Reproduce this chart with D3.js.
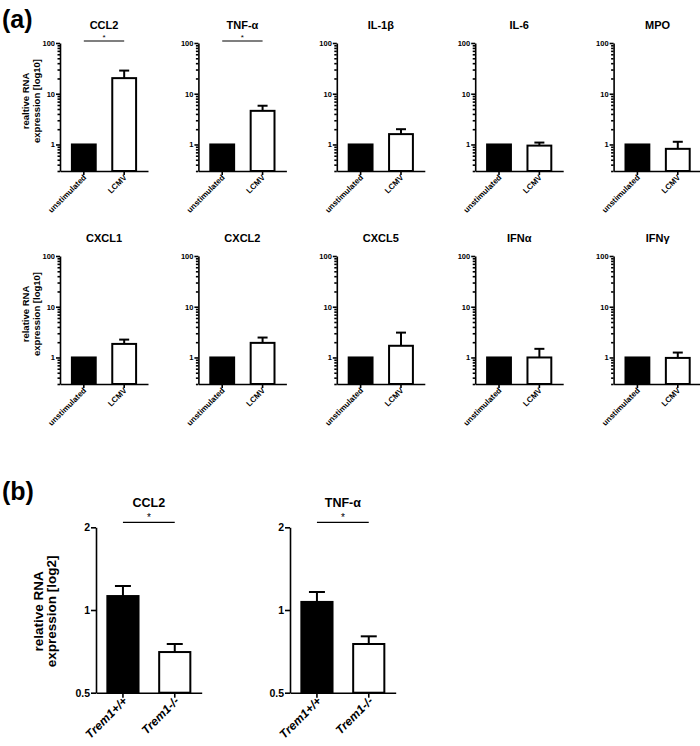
<!DOCTYPE html>
<html>
<head>
<meta charset="utf-8">
<script src="https://cdn.jsdelivr.net/npm/d3@7"></script>
<style>
  body { margin: 0; background: #fff; }
  svg { font-family: "Liberation Sans", Arial, sans-serif; font-weight: bold; }
  .axis path, .axis line { stroke: #000; stroke-width: 1.6; }
  .axis text { font-size: 7.5px; font-weight: bold; fill: #000; }
</style>
</head>
<body>
<script>
// panel (a): gene expression, log10 axis
const genesA = ['CCL2', 'TNF-α', 'IL-1β', 'IL-6', 'MPO', 'CXCL1', 'CXCL2', 'CXCL5', 'IFNα', 'IFNγ'];
const groupsA = ['unstimulated', 'LCMV'];
const unstimA = [1, 1, 1, 1, 1, 1, 1, 1, 1, 1];
const lcmvA = [20.3, 4.6, 1.6, 0.95, 0.82, 1.85, 1.94, 1.7, 1.0, 0.98];
const lcmvErrA = [28.6, 5.8, 2.0, 1.09, 1.13, 2.25, 2.47, 3.09, 1.48, 1.25];
const sigA = [true, true, false, false, false, false, false, false, false, false];
const ticksA = [1, 10, 100];
const yLabelsA = [['realtive RNA', 'expression [log10]'], ['relative RNA', 'expression [log10]']];

// panel (b): Trem1 genotypes, log2 axis
const genesB = ['CCL2', 'TNF-α'];
const groupsB = ['Trem1+/+', 'Trem1-/-'];
const wtB = [1.124, 1.07];
const wtErrB = [1.223, 1.163];
const koB = [0.703, 0.752];
const koErrB = [0.752, 0.802];
const ticksB = [0.5, 1, 2];

const svg = d3.select('body').append('svg').attr('width', 700).attr('height', 746);

svg.append('text').attr('x', 2).attr('y', 28).attr('font-size', 25).text('(a)');
svg.append('text').attr('x', 2).attr('y', 500).attr('font-size', 25).text('(b)');

const minorA = [];
[0.1, 1, 10].forEach((dec) => {
  for (let k = 2; k <= 9; k++) {
    const v = dec * k;
    if (v >= 0.3 && v < 100) minorA.push(v);
  }
});

const drawPanel = (g, opt) => {
  const y = opt.y;
  const x = d3.scaleBand().domain(opt.groups).range([0, opt.w]).paddingInner(0.36).paddingOuter(opt.po);
  const h = opt.h;

  if (opt.minor) {
    g.append('g').attr('class', 'axis')
      .call(d3.axisLeft(y).tickValues(opt.minor).tickSize(2.5).tickFormat(''))
      .call((s) => s.select('.domain').remove());
  }
  g.append('g').attr('class', 'axis')
    .call(d3.axisLeft(y).tickValues(opt.ticks).tickSize(opt.tick).tickPadding(1).tickSizeOuter(0).tickFormat(d3.format('')))
    .call((s) => s.selectAll('text').style('font-size', opt.tickFont + 'px'));

  const xa = g.append('g').attr('class', 'axis').attr('transform', 'translate(0,' + h + ')')
    .call(d3.axisBottom(x).tickSize(opt.tick).tickSizeOuter(0).tickFormat(''));

  xa.selectAll('.tick').append('text')
    .attr('transform', 'translate(' + opt.lx + ',' + opt.ly + ') rotate(-45)')
    .attr('text-anchor', 'end')
    .attr('fill', '#000')
    .style('font-size', opt.labFont + 'px')
    .style('font-style', opt.italic ? 'italic' : 'normal')
    .text((d) => d);

  const vals = opt.vals;
  const errs = opt.errs;
  const bars = g.append('g');
  opt.groups.forEach((grp, i) => {
    const x0 = x(grp);
    const top = y(vals[i]);
    if (errs[i] != null) {
      const cx = x0 + x.bandwidth() / 2;
      bars.append('line').attr('x1', cx).attr('x2', cx).attr('y1', top).attr('y2', y(errs[i]))
        .attr('stroke', '#000').attr('stroke-width', 2);
      bars.append('line').attr('x1', cx - opt.cap).attr('x2', cx + opt.cap).attr('y1', y(errs[i])).attr('y2', y(errs[i]))
        .attr('stroke', '#000').attr('stroke-width', 2);
    }
    bars.append('rect')
      .attr('x', x0 + 1).attr('width', x.bandwidth() - 2)
      .attr('y', top).attr('height', h - top)
      .attr('fill', i === 0 ? '#000' : '#fff')
      .attr('stroke', '#000').attr('stroke-width', 2);
  });

  g.append('text').attr('x', opt.w / 2).attr('y', opt.titleY)
    .attr('text-anchor', 'middle').attr('font-size', opt.titleFont).text(opt.title);

  if (opt.sig) {
    const c0 = x(opt.groups[0]) + x.bandwidth() / 2;
    const c1 = x(opt.groups[1]) + x.bandwidth() / 2;
    g.append('line').attr('x1', c0).attr('x2', c1).attr('y1', opt.sigY).attr('y2', opt.sigY)
      .attr('stroke', '#000').attr('stroke-width', 1.2);
    g.append('text').attr('x', (c0 + c1) / 2).attr('y', opt.sigY - 1.5)
      .attr('text-anchor', 'middle').attr('font-size', opt.starFont).attr('font-weight', 'normal').text('*');
  }

  if (opt.ylab) {
    const t = g.append('text').attr('text-anchor', 'middle')
      .attr('transform', 'translate(' + opt.ylabX + ',' + opt.ylabY + ') rotate(-90)')
      .attr('font-size', opt.ylabFont);
    opt.ylab.forEach((line, k) => {
      t.append('tspan').attr('x', 0).attr('dy', k === 0 ? 0 : opt.ylabLH).text(line);
    });
  }
};

const hA = 128;
const yA = d3.scaleLog().domain([0.3, 100]).range([hA, 0]);
genesA.forEach((gene, i) => {
  const row = Math.floor(i / 5);
  const col = i % 5;
  const g = svg.append('g')
    .attr('transform', 'translate(' + (60 + col * 138.4) + ',' + (43 + row * 213) + ')');
  drawPanel(g, {
    y: yA, h: hA, w: 88, po: 0.27, groups: groupsA,
    vals: [unstimA[i], lcmvA[i]], errs: [null, lcmvErrA[i]],
    ticks: ticksA, minor: minorA, tick: 4, tickFont: 7.5,
    lx: 3, ly: 7, labFont: 8, italic: false, cap: 5,
    title: gene, titleY: -14, titleFont: 11,
    sig: sigA[i], sigY: -2, starFont: 8,
    ylab: col === 0 ? yLabelsA[row] : null,
    ylabX: -31, ylabY: 58, ylabFont: 9.5, ylabLH: 10.5
  });
});

const hB = 165.4;
const yB = d3.scaleLog().base(2).domain([0.5, 2]).range([hB, 0]);
genesB.forEach((gene, i) => {
  const g = svg.append('g').attr('transform', 'translate(' + (96 + i * 194) + ',527.3)');
  drawPanel(g, {
    y: yB, h: hB, w: 105.7, po: 0.2, groups: groupsB,
    vals: [wtB[i], koB[i]], errs: [wtErrB[i], koErrB[i]],
    ticks: ticksB, minor: null, tick: 5, tickFont: 10.5,
    lx: 5, ly: 9, labFont: 12, italic: true, cap: 8,
    title: gene, titleY: -20, titleFont: 12.5,
    sig: true, sigY: -5, starFont: 10,
    ylab: i === 0 ? ['relative RNA', 'expression [log2]'] : null,
    ylabX: -53, ylabY: 84, ylabFont: 13.5, ylabLH: 12.5
  });
});
</script>
</body>
</html>
